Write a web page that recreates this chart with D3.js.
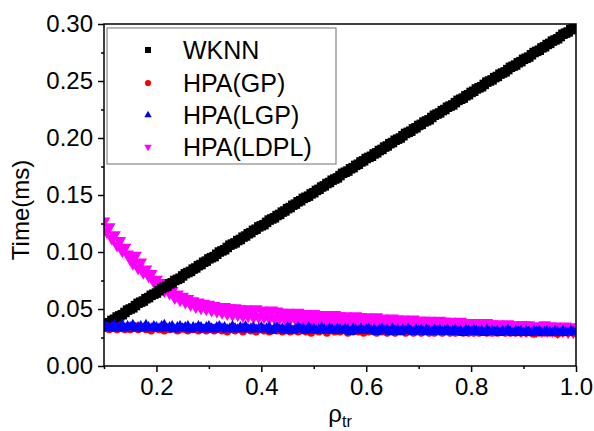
<!DOCTYPE html>
<html>
<head>
<meta charset="utf-8">
<script src="https://cdn.jsdelivr.net/npm/d3@7"></script>
<style>
body { margin: 0; background: #fff; }
svg text { font-family: "Liberation Sans", Arial, sans-serif; fill: #000; }
</style>
</head>
<body>
<svg id="chart" width="594" height="431"></svg>
<script>
// rho_tr sample positions, 0.100 .. 1.000 every 0.005
var rhoValues = d3.range(181).map(function (i) { return +(0.1 + i * 0.005).toFixed(3) })

var wknnTime = [
	0.035, 0.037, 0.038, 0.040, 0.041, 0.043, 0.044, 0.045, 0.047, 0.049,
	0.050, 0.051, 0.053, 0.055, 0.056, 0.057, 0.059, 0.060, 0.062, 0.063,
	0.064, 0.066, 0.068, 0.069, 0.070, 0.072, 0.073, 0.075, 0.076, 0.077,
	0.079, 0.081, 0.082, 0.083, 0.085, 0.086, 0.088, 0.089, 0.091, 0.092,
	0.094, 0.095, 0.096, 0.098, 0.100, 0.101, 0.102, 0.104, 0.106, 0.107,
	0.108, 0.110, 0.111, 0.113, 0.114, 0.116, 0.117, 0.119, 0.120, 0.122,
	0.123, 0.124, 0.126, 0.128, 0.129, 0.130, 0.132, 0.133, 0.135, 0.136,
	0.138, 0.139, 0.141, 0.142, 0.144, 0.145, 0.147, 0.148, 0.149, 0.151,
	0.152, 0.154, 0.155, 0.157, 0.158, 0.160, 0.161, 0.163, 0.164, 0.165,
	0.167, 0.169, 0.170, 0.171, 0.173, 0.174, 0.176, 0.177, 0.179, 0.180,
	0.182, 0.183, 0.184, 0.186, 0.187, 0.189, 0.190, 0.192, 0.193, 0.195,
	0.196, 0.198, 0.199, 0.200, 0.202, 0.204, 0.205, 0.206, 0.208, 0.209,
	0.211, 0.212, 0.214, 0.215, 0.216, 0.218, 0.220, 0.221, 0.222, 0.224,
	0.225, 0.227, 0.228, 0.229, 0.231, 0.233, 0.234, 0.235, 0.237, 0.238,
	0.240, 0.241, 0.243, 0.244, 0.245, 0.247, 0.249, 0.250, 0.251, 0.253,
	0.254, 0.256, 0.257, 0.258, 0.260, 0.262, 0.263, 0.264, 0.266, 0.267,
	0.269, 0.270, 0.271, 0.273, 0.275, 0.276, 0.277, 0.279, 0.280, 0.282,
	0.283, 0.285, 0.286, 0.287, 0.289, 0.291, 0.292, 0.293, 0.295, 0.296,
	0.297]

var gpTime = [
	0.033, 0.035, 0.032, 0.034, 0.033, 0.032, 0.035, 0.033, 0.032, 0.034,
	0.032, 0.033, 0.035, 0.032, 0.033, 0.034, 0.032, 0.033, 0.031, 0.034,
	0.033, 0.032, 0.034, 0.031, 0.033, 0.032, 0.034, 0.033, 0.031, 0.032,
	0.034, 0.032, 0.031, 0.033, 0.032, 0.034, 0.031, 0.032, 0.033, 0.031,
	0.032, 0.034, 0.031, 0.032, 0.033, 0.031, 0.032, 0.030, 0.033, 0.032,
	0.031, 0.033, 0.032, 0.030, 0.032, 0.033, 0.031, 0.032, 0.030, 0.032,
	0.033, 0.031, 0.032, 0.030, 0.031, 0.033, 0.031, 0.032, 0.030, 0.031,
	0.032, 0.030, 0.031, 0.033, 0.030, 0.031, 0.032, 0.030, 0.031, 0.029,
	0.032, 0.031, 0.030, 0.032, 0.031, 0.029, 0.031, 0.032, 0.030, 0.031,
	0.030, 0.032, 0.031, 0.029, 0.031, 0.030, 0.032, 0.030, 0.031, 0.029,
	0.031, 0.030, 0.032, 0.030, 0.029, 0.031, 0.030, 0.031, 0.029, 0.031,
	0.030, 0.029, 0.031, 0.030, 0.031, 0.029, 0.030, 0.031, 0.029, 0.030,
	0.031, 0.029, 0.030, 0.031, 0.029, 0.030, 0.029, 0.031, 0.030, 0.029,
	0.030, 0.031, 0.029, 0.030, 0.029, 0.031, 0.030, 0.029, 0.030, 0.029,
	0.031, 0.029, 0.030, 0.029, 0.030, 0.031, 0.029, 0.030, 0.029, 0.030,
	0.029, 0.030, 0.031, 0.029, 0.030, 0.029, 0.030, 0.029, 0.031, 0.029,
	0.030, 0.029, 0.030, 0.029, 0.028, 0.030, 0.029, 0.030, 0.029, 0.030,
	0.029, 0.030, 0.029, 0.028, 0.030, 0.029, 0.030, 0.029, 0.030, 0.029,
	0.029]

var lgpTime = [
	0.036, 0.034, 0.033, 0.035, 0.036, 0.033, 0.034, 0.036, 0.033, 0.035,
	0.034, 0.036, 0.033, 0.034, 0.035, 0.033, 0.036, 0.034, 0.033, 0.035,
	0.034, 0.033, 0.035, 0.036, 0.033, 0.034, 0.035, 0.032, 0.034, 0.035,
	0.033, 0.034, 0.035, 0.032, 0.034, 0.033, 0.035, 0.034, 0.032, 0.034,
	0.035, 0.033, 0.032, 0.034, 0.035, 0.033, 0.034, 0.032, 0.033, 0.035,
	0.033, 0.032, 0.034, 0.033, 0.035, 0.032, 0.033, 0.034, 0.032, 0.033,
	0.034, 0.032, 0.033, 0.034, 0.031, 0.033, 0.034, 0.032, 0.033, 0.031,
	0.034, 0.033, 0.031, 0.032, 0.034, 0.032, 0.033, 0.031, 0.034, 0.032,
	0.033, 0.031, 0.032, 0.034, 0.032, 0.031, 0.033, 0.032, 0.031, 0.033,
	0.032, 0.031, 0.033, 0.032, 0.030, 0.033, 0.032, 0.031, 0.033, 0.031,
	0.032, 0.033, 0.031, 0.032, 0.030, 0.032, 0.033, 0.031, 0.032, 0.030,
	0.033, 0.031, 0.032, 0.030, 0.032, 0.031, 0.033, 0.031, 0.030, 0.032,
	0.031, 0.032, 0.030, 0.032, 0.031, 0.030, 0.032, 0.031, 0.032, 0.030,
	0.031, 0.032, 0.030, 0.031, 0.032, 0.030, 0.031, 0.029, 0.032, 0.031,
	0.030, 0.032, 0.031, 0.030, 0.031, 0.029, 0.032, 0.030, 0.031, 0.030,
	0.031, 0.029, 0.031, 0.030, 0.032, 0.030, 0.029, 0.031, 0.030, 0.031,
	0.029, 0.031, 0.030, 0.029, 0.031, 0.030, 0.031, 0.029, 0.030, 0.031,
	0.030, 0.029, 0.031, 0.030, 0.029, 0.031, 0.030, 0.029, 0.031, 0.030,
	0.030]

var ldplTime = [
	0.127, 0.118, 0.122, 0.112, 0.115, 0.106, 0.110, 0.101, 0.104, 0.098,
	0.094, 0.090, 0.097, 0.086, 0.091, 0.082, 0.085, 0.079, 0.081, 0.074,
	0.076, 0.070, 0.073, 0.066, 0.069, 0.064, 0.066, 0.060, 0.063, 0.058,
	0.061, 0.056, 0.059, 0.054, 0.057, 0.052, 0.056, 0.051, 0.055, 0.050,
	0.054, 0.049, 0.053, 0.048, 0.052, 0.047, 0.052, 0.046, 0.051, 0.045,
	0.051, 0.045, 0.050, 0.044, 0.050, 0.044, 0.049, 0.043, 0.050, 0.043,
	0.049, 0.043, 0.048, 0.042, 0.049, 0.042, 0.048, 0.042, 0.047, 0.041,
	0.047, 0.041, 0.046, 0.041, 0.047, 0.040, 0.046, 0.040, 0.045, 0.040,
	0.046, 0.039, 0.045, 0.040, 0.045, 0.039, 0.044, 0.039, 0.045, 0.038,
	0.044, 0.038, 0.044, 0.038, 0.043, 0.038, 0.044, 0.037, 0.043, 0.037,
	0.043, 0.037, 0.042, 0.037, 0.043, 0.036, 0.042, 0.036, 0.041, 0.036,
	0.042, 0.036, 0.041, 0.035, 0.041, 0.036, 0.040, 0.035, 0.041, 0.035,
	0.040, 0.035, 0.040, 0.034, 0.040, 0.035, 0.039, 0.034, 0.040, 0.034,
	0.039, 0.034, 0.039, 0.033, 0.038, 0.034, 0.039, 0.033, 0.038, 0.033,
	0.038, 0.033, 0.038, 0.033, 0.037, 0.033, 0.038, 0.032, 0.037, 0.032,
	0.037, 0.032, 0.036, 0.032, 0.037, 0.032, 0.036, 0.032, 0.036, 0.031,
	0.036, 0.031, 0.036, 0.031, 0.035, 0.031, 0.035, 0.031, 0.036, 0.031,
	0.035, 0.031, 0.035, 0.030, 0.034, 0.031, 0.035, 0.030, 0.034, 0.030,
	0.034]

var seriesNames = ['WKNN', 'HPA(GP)', 'HPA(LGP)', 'HPA(LDPL)']
var seriesValues = [wknnTime, gpTime, lgpTime, ldplTime]
var seriesColors = ['#000000', '#ff0000', '#0000ff', '#ff00ff']
var drawOrder = [3, 0, 1, 2]

var xTicks = [0.2, 0.4, 0.6, 0.8, 1.0]
var xMinorTicks = [0.1, 0.3, 0.5, 0.7, 0.9]
var yTicks = [0.00, 0.05, 0.10, 0.15, 0.20, 0.25, 0.30]
var yMinorTicks = [0.025, 0.075, 0.125, 0.175, 0.225, 0.275]

function drawChart() {
	var svg = d3.select('#chart')
	var pLeft = 104, pRight = 576, pTop = 24, pBottom = 366
	var fontFam = '"Liberation Sans", Arial, sans-serif'

	var xScale = d3.scaleLinear().domain([0.1, 1.0]).range([pLeft, pRight])
	var yScale = d3.scaleLinear().domain([0, 0.30]).range([pBottom, pTop])

	function markerPath(i, size) {
		if (i == 0) return d3.symbol().type(d3.symbolSquare).size(size)()
		if (i == 1) return d3.symbol().type(d3.symbolCircle).size(size)()
		return d3.symbol().type(d3.symbolTriangle).size(size)()
	}
	var markerSizes = [90, 45, 50, 70]
	var legendSizes = [36, 30, 24, 24]

	svg.append('clipPath').attr('id', 'plotclip')
		.append('rect').attr('x', pLeft).attr('y', pTop)
		.attr('width', pRight - pLeft).attr('height', pBottom - pTop)

	// data points
	var pts = svg.append('g').attr('clip-path', 'url(#plotclip)')
	drawOrder.forEach(function (i) {
		pts.append('g').selectAll('path')
			.data(seriesValues[i])
			.enter()
			.append('path')
			.attr('d', markerPath(i, markerSizes[i]))
			.attr('transform', function (d, j) {
				var t = 'translate(' + xScale(rhoValues[j]) + ',' + yScale(d) + ')'
				if (i == 3) t += ' rotate(180)'
				return t
			})
			.style('fill', seriesColors[i])
	})

	// axes
	var xAxis = svg.append('g')
		.attr('transform', 'translate(0,' + pBottom + ')')
		.call(d3.axisBottom(xScale).tickValues(xTicks).tickFormat(d3.format('.1f')).tickSize(6).tickPadding(6))
	svg.append('g')
		.attr('transform', 'translate(0,' + pBottom + ')')
		.call(d3.axisBottom(xScale).tickValues(xMinorTicks).tickFormat('').tickSize(3))
	var yAxis = svg.append('g')
		.attr('transform', 'translate(' + pLeft + ',0)')
		.call(d3.axisLeft(yScale).tickValues(yTicks).tickFormat(d3.format('.2f')).tickSize(6).tickPadding(5))
	svg.append('g')
		.attr('transform', 'translate(' + pLeft + ',0)')
		.call(d3.axisLeft(yScale).tickValues(yMinorTicks).tickFormat('').tickSize(3))

	svg.selectAll('.domain').remove()
	svg.selectAll('.tick line').attr('stroke', '#000').attr('stroke-width', 1.5)
	xAxis.attr('font-size', 24).attr('font-family', fontFam)
	yAxis.attr('font-size', 24).attr('font-family', fontFam)

	// frame
	svg.append('rect')
		.attr('x', pLeft).attr('y', pTop)
		.attr('width', pRight - pLeft).attr('height', pBottom - pTop)
		.style('fill', 'none').style('stroke', '#000').style('stroke-width', 1.5)

	// axis titles
	svg.append('text')
		.attr('transform', 'translate(29,210) rotate(-90)')
		.attr('text-anchor', 'middle')
		.attr('font-size', 24)
		.text('Time(ms)')

	var xt = svg.append('text')
		.attr('x', 340).attr('y', 422)
		.attr('text-anchor', 'middle')
		.attr('font-size', 24)
	xt.append('tspan').text('\u03c1')
	xt.append('tspan').attr('font-size', 16).attr('dy', 5).text('tr')

	// legend
	var lg = svg.append('g')
	lg.append('rect')
		.attr('x', 107).attr('y', 28)
		.attr('width', 229).attr('height', 136)
		.style('fill', '#fff').style('stroke', '#888').style('stroke-width', 1.2)
	var legendRows = [50, 83, 115, 147]
	seriesNames.forEach(function (name, i) {
		lg.append('path')
			.attr('d', markerPath(i, legendSizes[i]))
			.attr('transform', 'translate(148,' + legendRows[i] + ')' + (i == 3 ? ' rotate(180)' : ''))
			.style('fill', seriesColors[i])
		lg.append('text')
			.attr('x', 183).attr('y', legendRows[i] + 9)
			.attr('font-size', 25)
			.text(name)
	})
}

drawChart()
</script>
</body>
</html>
